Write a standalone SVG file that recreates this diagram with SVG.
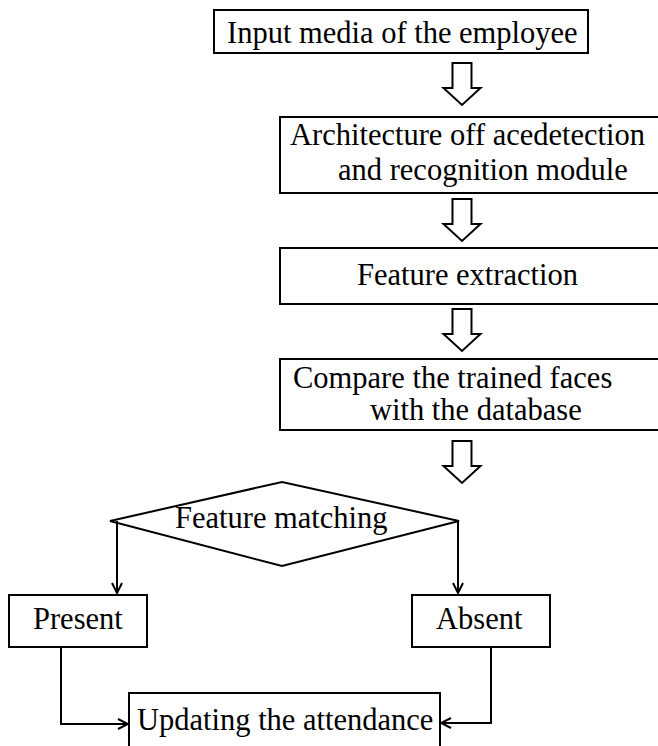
<svg xmlns="http://www.w3.org/2000/svg" width="658" height="746" viewBox="0 0 658 746">
<style>
.box{fill:#fff;stroke:#000;stroke-width:2}
.dia{fill:#fff;stroke:#000;stroke-width:2}
text{font-family:'Liberation Serif','DejaVu Serif',serif;font-size:30.5px;fill:#000}
.hollow{fill:#fff;stroke:#000;stroke-width:2;stroke-linejoin:miter}
.conn{fill:none;stroke:#000;stroke-width:2}
</style>
<defs>
<marker id="open" viewBox="0 0 12 12" refX="11" refY="6" markerWidth="12" markerHeight="12" markerUnits="userSpaceOnUse" orient="auto">
<polyline points="1,1 11,6 1,11" fill="none" stroke="#000" stroke-width="2"/>
</marker>
<path id="harrow" d="M-9.5,0 H9.5 V25 H18.5 L0,42 L-18.5,25 H-9.5 Z"/>
</defs>
<rect width="658" height="746" fill="#fff"/>
<g font-family="Liberation Serif, DejaVu Serif, serif" font-size="30.5">
<g id="n1"><rect class="box" x="214" y="10" width="374" height="43"/><text x="227" y="43">Input media of the employee</text></g>
<g id="n2"><rect class="box" x="280" y="117" width="390" height="76"/><text x="290" y="145">Architecture off acedetection</text><text x="338" y="180">and recognition module</text></g>
<g id="n3"><rect class="box" x="280" y="248" width="390" height="56"/><text x="357" y="285">Feature extraction</text></g>
<g id="n4"><rect class="box" x="280" y="359" width="390" height="71"/><text x="293" y="388">Compare the trained faces</text><text x="370" y="420">with the database</text></g>
<g id="n5"><polygon class="dia" points="110,521 282,482 459,521 282,566"/><text x="175" y="528">Feature matching</text></g>
<g id="n6"><rect class="box" x="9" y="595" width="138" height="52"/><text x="33" y="629">Present</text></g>
<g id="n7"><rect class="box" x="412" y="595" width="138" height="52"/><text x="436" y="629">Absent</text></g>
<g id="n8"><rect class="box" x="129" y="693" width="311" height="70"/><text x="137" y="730">Updating the attendance</text></g>
</g>
<g id="connectors">
<use href="#harrow" class="hollow" transform="translate(462,63)"/>
<use href="#harrow" class="hollow" transform="translate(462,199)"/>
<use href="#harrow" class="hollow" transform="translate(462,309)"/>
<use href="#harrow" class="hollow" transform="translate(462,441)"/>
<path class="conn" d="M117,521 V593" marker-end="url(#open)"/>
<path class="conn" d="M458,521 V593" marker-end="url(#open)"/>
<path class="conn" d="M61,647 V724 H128" marker-end="url(#open)"/>
<path class="conn" d="M491,647 V723 H441" marker-end="url(#open)"/>
</g>
</svg>
